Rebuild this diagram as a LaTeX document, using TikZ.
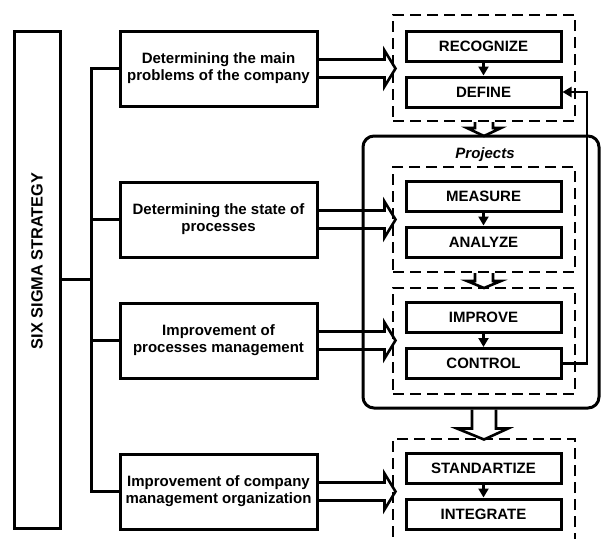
\documentclass[tikz,border=0pt]{standalone}
\usepackage{fontspec}
\setmainfont{Liberation Sans}
\usetikzlibrary{arrows.meta,calc}
\begin{document}
\begin{tikzpicture}[x=1pt,y=-1pt,
  txt/.style={font=\fontsize{15}{17}\selectfont\bfseries},
  bigbox/.style={draw,line width=3pt,minimum width=197pt,minimum height=75pt,align=center,inner sep=0pt,txt},
  stepbox/.style={draw,line width=3pt,minimum width=155pt,minimum height=30pt,inner sep=0pt,txt},
  dbox/.style={draw,dashed,dash pattern=on 11pt off 6pt,line width=2pt,minimum width=182pt,inner sep=0pt},
  hollow/.style={line width=2.6pt,line join=miter},
  thin/.style={line width=2.2pt,-{Triangle[length=9pt,width=10pt]}},
  bus/.style={line width=3pt}]
\clip (0,0) rectangle (601,538);
\useasboundingbox (0,0) rectangle (601,538);
% left box
\node[draw,line width=3pt,minimum width=46pt,minimum height=497pt,inner sep=0pt] (L) at (37,279.5) {};
\node[font=\fontsize{16.3}{18}\selectfont\bfseries,rotate=90] (Lt) at (37,261) {SIX SIGMA STRATEGY};
% main boxes
\node[bigbox] (b1) at (218.5,68.5) {Determining the main\\problems of the company};
\node[bigbox] (b2) at (218.5,219.5) {Determining the state of\\processes};
\node[bigbox] (b3) at (218.5,340.5) {Improvement of\\processes management};
\node[bigbox] (b4) at (218.5,491.5) {Improvement of company\\management organization};
% bus
\coordinate (bt) at (91,68.5);
\coordinate (bb) at (91,491.5);
\draw[bus] (b1.west) -- (bt) -- (bb) -- (b4.west);
\draw[bus] (b2.west) -- (b2.west -| bt);
\draw[bus] (b3.west) -- (b3.west -| bt);
\draw[bus] (L.east) -- (L.east -| bt);
% rounded projects box
\node[draw,line width=3pt,rounded corners=11pt,minimum width=236pt,minimum height=272pt,inner sep=0pt] (P) at (481,272) {};
\node[font=\fontsize{15}{17}\selectfont\bfseries\itshape] (Pt) at (485,155) {Projects};
% dashed boxes
\node[dbox,minimum height=106pt] (d1) at (484,68) {};
\node[dbox,minimum height=105pt] (d2) at (484,219.5) {};
\node[dbox,minimum height=106pt] (d3) at (484,341) {};
\node[dbox,minimum height=110pt] (d4) at (484,494) {};
% step boxes
\node[stepbox] (s1) at (483.5,46.5) {RECOGNIZE};
\node[stepbox] (s2) at (483.5,92) {DEFINE};
\node[stepbox] (s3) at (483.5,196.5) {MEASURE};
\node[stepbox] (s4) at (483.5,242) {ANALYZE};
\node[stepbox] (s5) at (483.5,317.5) {IMPROVE};
\node[stepbox] (s6) at (483.5,363.5) {CONTROL};
\node[stepbox] (s7) at (483.5,468) {STANDARTIZE};
\node[stepbox] (s8) at (483.5,514) {INTEGRATE};
% thin arrows
\draw[thin] (s1) -- (s2);
\draw[thin] (s3) -- (s4);
\draw[thin] (s5) -- (s6);
\draw[thin] (s7) -- (s8);
\coordinate (fb) at (587,92);
\draw[thin] (s6.east) -- (s6.east -| fb) -- (fb) -- (s2.east);
% hollow horizontal arrows
\foreach \b in {b1,b2,b3,b4}{
  \draw[hollow] ($(\b.east)+(0,-9)$) -- ($(\b.east)+(66,-9)$) -- ($(\b.east)+(66,-18)$)
     -- ($(\b.east)+(77,0)$) -- ($(\b.east)+(66,18)$) -- ($(\b.east)+(66,9)$) -- ($(\b.east)+(0,9)$);
}
% hollow vertical arrows
\draw[hollow] ($(d1.south)+(-9,0)$) -- ++(0,6) -- ++(-8,0) -- ($(d1.south)+(0,14)$) -- ++(17,-8) -- ++(-8,0) -- ++(0,-6);
\draw[hollow] ($(d2.south)+(-9,0)$) -- ++(0,8) -- ++(-8,0) -- ($(d2.south)+(0,15)$) -- ++(17,-7) -- ++(-8,0) -- ++(0,-8);
\draw[hollow] ($(P.south)+(-9,0)$) -- ++(0,19) -- ++(-15,0) -- ($(P.south)+(3,30)$) -- ++(24,-11) -- ++(-12,0) -- ++(0,-19);
\end{tikzpicture}
\end{document}
